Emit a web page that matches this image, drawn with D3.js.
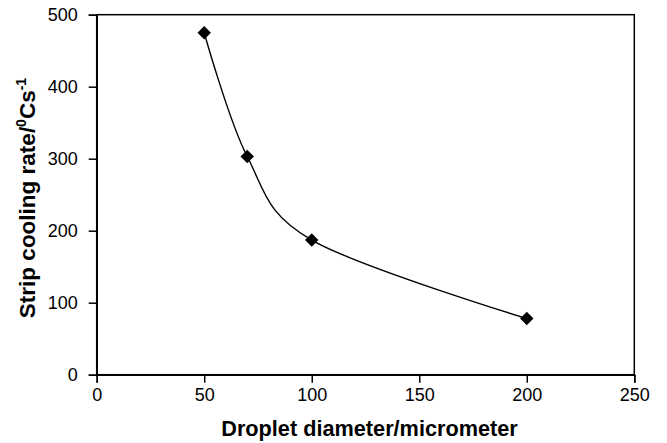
<!DOCTYPE html>
<html>
<head>
<meta charset="utf-8">
<script src="https://cdn.jsdelivr.net/npm/d3@7"></script>
<style>
  html, body { margin: 0; padding: 0; background: #fff; }
  svg { display: block; font-family: Arial, "Liberation Sans", sans-serif; }
</style>
</head>
<body>
<div id="chart"></div>
<script>
// data
const diameters = [50, 70, 100, 200];
const coolingRates = [475, 303, 187, 78];
const xTicks = [0, 50, 100, 150, 200, 250];
const yTicks = [0, 100, 200, 300, 400, 500];

const width = 667, height = 443;
const margin = { top: 14.7, right: 32.7, bottom: 68.3, left: 96.7 };
const innerW = width - margin.left - margin.right;
const innerH = height - margin.top - margin.bottom;

const svg = d3.select("#chart").append("svg")
	.attr("width", width)
	.attr("height", height);

const g = svg.append("g")
	.attr("transform", `translate(${margin.left},${margin.top})`);

const x = d3.scaleLinear().domain([0, 250]).range([0, innerW]);
const y = d3.scaleLinear().domain([0, 500]).range([innerH, 0]);

// plot area frame (top + right edges)
g.append("rect")
	.attr("width", innerW)
	.attr("height", innerH)
	.attr("fill", "none")
	.attr("stroke", "#000")
	.attr("stroke-width", 1.5);

// axes
const xAxis = g.append("g")
	.attr("transform", `translate(0,${innerH})`)
	.call(d3.axisBottom(x).tickValues(xTicks).tickSizeOuter(0).tickSize(8).tickPadding(6));

const yAxis = g.append("g")
	.call(d3.axisLeft(y).tickValues(yTicks).tickSizeOuter(0).tickSize(8).tickPadding(11));

[xAxis, yAxis].forEach(a => {
	a.select(".domain").attr("stroke", "#000").attr("stroke-width", 1.5);
	a.selectAll(".tick line").attr("stroke", "#000").attr("stroke-width", 1.5);
	a.selectAll(".tick text")
		.attr("fill", "#000")
		.style("font-size", "18px")
		.style("font-family", "Arial, 'Liberation Sans', sans-serif");
});

// smoothed line through the points (Excel-like smoothing)
const pts = diameters.map((d, i) => [x(d), y(coolingRates[i])]);
const line = d3.line().curve(d3.curveCardinal.tension(0));

g.append("path")
	.attr("d", line(pts))
	.attr("fill", "none")
	.attr("stroke", "#000")
	.attr("stroke-width", 1.4);

// diamond markers
g.selectAll(".marker")
	.data(pts)
	.join("path")
	.attr("class", "marker")
	.attr("d", d3.symbol(d3.symbolSquare, 90)())
	.attr("transform", d => `translate(${d[0]},${d[1]}) rotate(45)`)
	.attr("fill", "#000");

// axis titles
svg.append("text")
	.attr("x", 369.5)
	.attr("y", 436)
	.attr("text-anchor", "middle")
	.style("font-size", "21.7px")
	.style("font-weight", "bold")
	.text("Droplet diameter/micrometer");

const yl = svg.append("text")
	.attr("transform", `translate(35,198) rotate(-90)`)
	.attr("text-anchor", "middle")
	.style("font-size", "22.5px")
	.style("font-weight", "bold");
yl.append("tspan").text("Strip cooling rate/");
yl.append("tspan").attr("dy", -9).style("font-size", "14px").text("0");
yl.append("tspan").attr("dy", 9).text("Cs");
yl.append("tspan").attr("dy", -9).style("font-size", "14px").text("-1");
</script>
</body>
</html>
